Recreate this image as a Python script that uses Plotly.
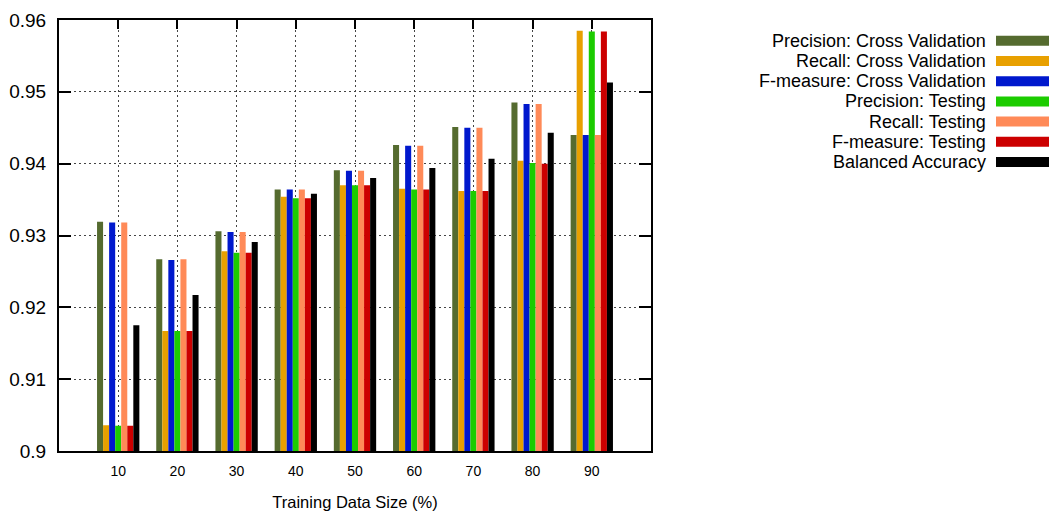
import plotly.graph_objects as go

categories = ["10", "20", "30", "40", "50", "60", "70", "80", "90"]

series_names = [
    "Precision: Cross Validation",
    "Recall: Cross Validation",
    "F-measure: Cross Validation",
    "Precision: Testing",
    "Recall: Testing",
    "F-measure: Testing",
    "Balanced Accuracy",
]

precision_cv = [0.9319, 0.9267, 0.9306, 0.9364, 0.9391, 0.9426, 0.9451, 0.9485, 0.9440]
recall_cv = [0.9036, 0.9167, 0.9278, 0.9354, 0.9370, 0.9365, 0.9362, 0.9404, 0.9585]
fmeasure_cv = [0.9318, 0.9266, 0.9305, 0.9364, 0.9390, 0.9425, 0.9450, 0.9483, 0.9440]
precision_test = [0.9035, 0.9167, 0.9276, 0.9352, 0.9370, 0.9364, 0.9362, 0.9401, 0.9584]
recall_test = [0.9318, 0.9267, 0.9305, 0.9364, 0.9390, 0.9425, 0.9450, 0.9483, 0.9440]
fmeasure_test = [0.9035, 0.9167, 0.9276, 0.9352, 0.9370, 0.9364, 0.9362, 0.9400, 0.9584]
balanced_accuracy = [0.9175, 0.9217, 0.9291, 0.9358, 0.9380, 0.9394, 0.9407, 0.9443, 0.9513]

y_tick_values = [0.90, 0.91, 0.92, 0.93, 0.94, 0.95, 0.96]
y_tick_labels = ["0.9", "0.91", "0.92", "0.93", "0.94", "0.95", "0.96"]

x_title = "Training Data Size (%)"

colors = ["#556b2f", "#e8a000", "#0018cd", "#1ccc00", "#ff8a58", "#cc0000", "#000000"]

all_series = [precision_cv, recall_cv, fmeasure_cv, precision_test,
              recall_test, fmeasure_test, balanced_accuracy]

FONT = "Liberation Sans, Arial, Helvetica, sans-serif"
OFF = 8  # default page body margin
W, H = 1057 - OFF, 511 - OFF
# plot area in page pixels
PL, PR, PT, PB = 59, 651, 20, 451
L, R, T, B = PL - OFF, PR - OFF, PT - OFF, PB - OFF

fig = go.Figure()
for name, vals, col in zip(series_names, all_series, colors):
    fig.add_trace(go.Bar(
        x=categories, y=vals, name=name,
        marker=dict(color=col, line=dict(width=0)),
        showlegend=False,
    ))


def px_x(p):  # page pixel -> paper coordinate
    return (p - PL) / (PR - PL)


def px_y(p):
    return (PB - p) / (PB - PT)


# custom legend (text right-aligned, swatch on the right as in the reference)
annotations = []
shapes = []
LEG_STEP = 20.2
LEG_START = 101.4 - 3 * LEG_STEP
for i, (name, col) in enumerate(zip(series_names, colors)):
    yc = LEG_START + LEG_STEP * i
    annotations.append(dict(
        x=px_x(987), y=px_y(yc), xref="paper", yref="paper",
        text=name, showarrow=False, xanchor="right", yanchor="middle",
        borderpad=0,
        font=dict(family=FONT, size=18, color="#000000"),
    ))
    shapes.append(dict(
        type="rect", xref="paper", yref="paper",
        x0=px_x(996), x1=px_x(1055), y0=px_y(yc - 5), y1=px_y(yc + 5),
        fillcolor=col, line=dict(width=0),
    ))

fig.update_layout(
    width=W, height=H,
    margin=dict(l=L, r=W - R, t=T, b=H - B, pad=0, autoexpand=False),
    paper_bgcolor="white", plot_bgcolor="white",
    barmode="group", bargap=0.285, bargroupgap=0,
    font=dict(family=FONT, color="#000000"),
    annotations=annotations, shapes=shapes,
    showlegend=False,
    xaxis2=dict(
        overlaying="x", matches="x", side="top", type="category",
        ticks="inside", ticklen=9, tickwidth=1.5, tickcolor="#000000",
        showticklabels=False, showgrid=False, showline=False,
        automargin=False,
    ),
)

# invisible trace to activate the top axis (used only for its tick marks)
fig.add_trace(go.Bar(x=categories, y=[None] * len(categories), xaxis="x2",
                     showlegend=False, hoverinfo="skip"))

fig.update_layout(xaxis=dict(
    type="category", range=[-1, 9],
    showline=True, linecolor="#000000", linewidth=2, mirror=True,
    ticks="",
    showgrid=True, gridcolor="#444444", gridwidth=1, griddash="2px,3px",
    tickfont=dict(family=FONT, size=14, color="#000000"),
    ticklabelstandoff=6,
    title=dict(text=x_title, font=dict(family=FONT, size=16.5, color="#000000"), standoff=19),
    zeroline=False, automargin=False,
))
fig.update_layout(yaxis=dict(
    range=[0.9, 0.96], tickvals=y_tick_values, ticktext=y_tick_labels,
    showline=True, linecolor="#000000", linewidth=2, mirror="ticks",
    ticks="inside", ticklen=12, tickwidth=2, tickcolor="#000000",
    showgrid=True, gridcolor="#444444", gridwidth=1, griddash="2px,3px",
    tickfont=dict(family=FONT, size=19, color="#000000"),
    ticklabelstandoff=7,
    zeroline=False, automargin=False,
))

fig.write_html("out.html")
